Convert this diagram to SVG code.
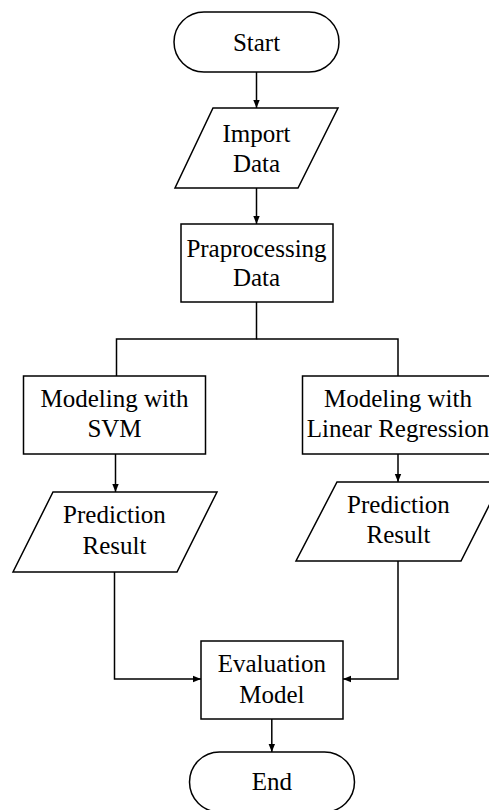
<svg xmlns="http://www.w3.org/2000/svg" width="489" height="810" viewBox="0 0 489 810">
<style>
.s{fill:#fff;stroke:#000;stroke-width:1.5}
.c{fill:none;stroke:#000;stroke-width:1.5}
text{font-family:"Liberation Serif","Times New Roman",serif;font-size:25px;fill:#000;text-anchor:middle}
</style>
<defs>
<marker id="a" viewBox="0 0 8 8" refX="8" refY="4" markerWidth="8" markerHeight="8" markerUnits="userSpaceOnUse" orient="auto">
<path d="M0,0.8 L8,4 L0,7.2 Z" fill="#000"/>
</marker>
</defs>
<g id="connectors">
<line class="c" x1="256.5" y1="72" x2="256.5" y2="108" marker-end="url(#a)"/>
<line class="c" x1="256.5" y1="188" x2="256.5" y2="224" marker-end="url(#a)"/>
<polyline class="c" points="256.5,302 256.5,339 116.5,339 116.5,376"/>
<polyline class="c" points="256.5,339 398,339 398,376"/>
<line class="c" x1="115.5" y1="454" x2="115.5" y2="492" marker-end="url(#a)"/>
<line class="c" x1="398" y1="454" x2="398" y2="482" marker-end="url(#a)"/>
<polyline class="c" points="114.5,572 114.5,679 201,679" marker-end="url(#a)"/>
<polyline class="c" points="398,561 398,679 343,679" marker-end="url(#a)"/>
<line class="c" x1="271.8" y1="719" x2="271.8" y2="752" marker-end="url(#a)"/>
</g>
<g id="start">
<rect class="s" x="174" y="12" width="165" height="60" rx="30" ry="30"/>
<text x="256.5" y="50.5">Start</text>
</g>
<g id="import">
<polygon class="s" points="213,108 338,108 298,188 175,188"/>
<text x="256.5" y="141.5">Import</text>
<text x="256.5" y="171.5">Data</text>
</g>
<g id="preprocessing">
<rect class="s" x="181" y="224" width="152" height="78"/>
<text x="256.5" y="256.5">Praprocessing</text>
<text x="256.5" y="285.5">Data</text>
</g>
<g id="svm">
<rect class="s" x="23.5" y="376" width="182" height="78"/>
<text x="114.5" y="407">Modeling with</text>
<text x="114.5" y="436.5">SVM</text>
</g>
<g id="lr">
<rect class="s" x="302.5" y="376" width="192" height="78"/>
<text x="398" y="407">Modeling with</text>
<text x="398" y="436.5">Linear Regression</text>
</g>
<g id="pred-svm">
<polygon class="s" points="53,492 217,492 177,572 13,572"/>
<text x="114.5" y="523">Prediction</text>
<text x="114.5" y="554">Result</text>
</g>
<g id="pred-lr">
<polygon class="s" points="337,482 501,482 461,561 296,561"/>
<text x="398.5" y="513">Prediction</text>
<text x="398.5" y="543">Result</text>
</g>
<g id="evaluation">
<rect class="s" x="201" y="641" width="142" height="78"/>
<text x="271.8" y="671.5">Evaluation</text>
<text x="271.8" y="702.5">Model</text>
</g>
<g id="end">
<rect class="s" x="189.5" y="752" width="165" height="60" rx="30" ry="30"/>
<text x="271.8" y="790">End</text>
</g>
</svg>
